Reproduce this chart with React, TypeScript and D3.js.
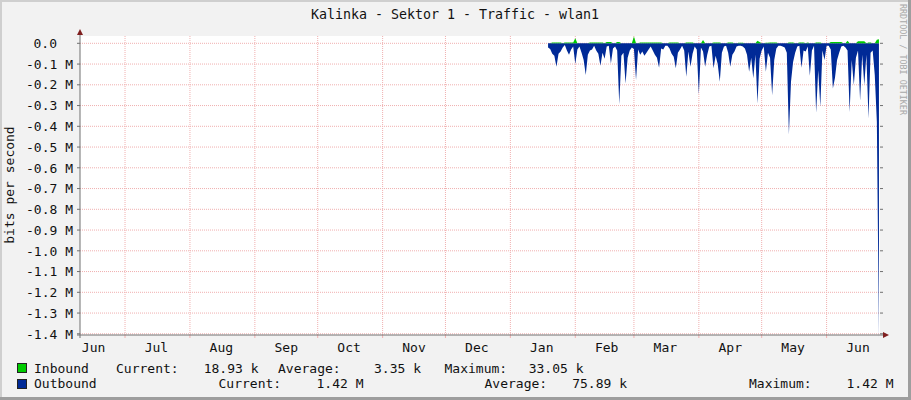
import React from 'react'
import * as d3 from 'd3'

// daily samples from 2015-01-19 onwards, kbit/s
const firstDay = Date.UTC(2015, 0, 19)

const inbound = [
	0, 0, 4, 4, 4, 4, 4, 0, 4, 4,
	4, 4, 4, 24, 0, 0, 0, 0, 0, 0,
	4, 4, 4, 4, 4, 4, 4, 0, 6, 6,
	6, 0, 0, 6, 6, 0, 0, 0, 0, 0,
	0, 33, 0, 0, 4, 4, 4, 4, 4, 4,
	4, 4, 4, 4, 4, 0, 0, 0, 4, 4,
	4, 4, 4, 0, 0, 0, 4, 4, 4, 4,
	0, 0, 0, 0, 16, 0, 0, 0, 0, 4,
	4, 4, 4, 0, 0, 0, 4, 4, 4, 0,
	0, 3, 3, 3, 0, 0, 0, 0, 0, 0,
	12, 6, 0, 0, 3, 3, 4, 4, 4, 4,
	0, 0, 0, 0, 0, 4, 4, 4, 0, 0,
	4, 4, 4, 0, 4, 0, 0, 0, 4, 4,
	4, 0, 0, 0, 0, 6, 6, 6, 6, 6,
	6, 0, 0, 12, 0, 0, 0, 0, 10, 10,
	10, 10, 0, 4, 4, 0, 0, 17, 19
]

const outbound = [
	20, 28, 50, 60, 113, 50, 40, 20, 8, 35,
	55, 30, 16, 100, 30, 16, 45, 80, 153, 55,
	35, 30, 12, 35, 50, 108, 45, 75, 16, 12,
	97, 25, 16, 35, 294, 60, 45, 194, 70, 35,
	20, 28, 177, 30, 55, 40, 60, 45, 30, 16,
	35, 55, 70, 118, 25, 30, 12, 12, 25, 50,
	65, 120, 45, 30, 12, 35, 161, 40, 113, 50,
	16, 30, 247, 20, 40, 113, 55, 16, 12, 120,
	60, 100, 185, 45, 16, 12, 45, 113, 55, 40,
	16, 12, 12, 16, 25, 55, 137, 70, 169, 55,
	290, 75, 35, 16, 137, 45, 70, 250, 80, 25,
	12, 12, 16, 20, 45, 440, 185, 90, 45, 16,
	12, 118, 35, 40, 16, 156, 35, 12, 335, 130,
	306, 35, 80, 12, 12, 30, 218, 166, 80, 45,
	16, 12, 20, 35, 331, 80, 201, 70, 35, 277,
	55, 201, 55, 363, 45, 35, 153, 379, 1420
]

const yTicks = [0, -0.1, -0.2, -0.3, -0.4, -0.5, -0.6, -0.7, -0.8, -0.9, -1.0, -1.1, -1.2, -1.3, -1.4]
const monthLabels = ['Jun', 'Jul', 'Aug', 'Sep', 'Oct', 'Nov', 'Dec', 'Jan', 'Feb', 'Mar', 'Apr', 'May', 'Jun']

const inboundStats = ['18.93 k', '3.35 k', '33.05 k']
const outboundStats = ['1.42 M', '75.89 k', '1.42 M']

const W = 911
const H = 400
const plot = { left: 80, right: 880, top: 36, bottom: 335 }
const font = '"DejaVu Sans Mono", monospace'
const gridColor = '#f0b0b0'
const axisColor = '#707070'
const arrowColor = '#7f1f1f'
const inColor = '#00cc00'
const outColor = '#002a97'

const App = () => {
	const x = d3
		.scaleUtc()
		.domain([Date.UTC(2014, 5, 9, 12), Date.UTC(2015, 5, 26, 12)])
		.range([plot.left, plot.right])
	const y = d3
		.scaleLinear()
		.domain([-1.40578e6, 0.03518e6])
		.range([plot.bottom, plot.top])

	const day = (i: number) => new Date(firstDay + i * 864e5)

	const outArea = d3
		.area<number>()
		.x((_, i) => x(day(i)))
		.y0(y(0))
		.y1((d) => y(-d * 1000))
	const inArea = d3
		.area<number>()
		.x((_, i) => x(day(i)))
		.y0(y(0))
		.y1((d) => y(d * 1000))

	const monthStarts = d3.utcMonth.range(x.domain()[0], x.domain()[1])
	const labelDates = monthLabels.map((_, i) => d3.utcDay.offset(d3.utcMonth.offset(new Date(Date.UTC(2014, 5, 1)), i), 15))

	const txt = { fontFamily: font, fontSize: 13, fill: '#111' }

	return (
		<svg width={W} height={H} style={{ position: 'absolute', left: 0, top: 0, display: 'block' }}>
			{/* canvas + frame */}
			<rect width={W} height={H} fill="#f2f2f2" />
			<rect x={0} y={0} width={W} height={2} fill="#cfcfcf" />
			<rect x={0} y={0} width={2} height={H} fill="#cfcfcf" />
			<rect x={0} y={H - 3} width={W} height={3} fill="#9e9e9e" />
			<rect x={W - 3} y={0} width={3} height={H} fill="#9e9e9e" />

			<text x={455} y={19} textAnchor="middle" {...txt} fontSize={13.3}>
				Kalinka - Sektor 1 - Traffic - wlan1
			</text>
			<text
				transform="translate(900,4) rotate(90)"
				fontFamily={font}
				fontSize={8.4}
				fill="#a8a8a8"
			>
				RRDTOOL / TOBI OETIKER
			</text>

			{/* plot area */}
			<rect x={plot.left} y={plot.top} width={plot.right - plot.left} height={plot.bottom - plot.top} fill="#fff" />

			{/* grid */}
			{yTicks.map((t) => (
				<line key={t} x1={plot.left} x2={plot.right} y1={y(t * 1e6)} y2={y(t * 1e6)} stroke={gridColor} strokeDasharray="1,1" />
			))}
			{monthStarts.map((d) => (
				<line key={+d} x1={x(d)} x2={x(d)} y1={plot.top} y2={plot.bottom} stroke={gridColor} strokeDasharray="1,1" />
			))}

			{/* data */}
			<path d={outArea(outbound) || ''} fill={outColor} />
			<path d={inArea(inbound) || ''} fill={inColor} />

			{/* axes */}
			{yTicks.map((t) => (
				<g key={'yt' + t}>
					<line x1={plot.left - 3} x2={plot.left} y1={y(t * 1e6)} y2={y(t * 1e6)} stroke={axisColor} />
					<line x1={plot.right} x2={plot.right + 3} y1={y(t * 1e6)} y2={y(t * 1e6)} stroke={axisColor} />
					<text
						x={t === 0 ? 57 : 73}
						y={y(t * 1e6) + 4.7}
						textAnchor="end"
						{...txt}
					>
						{t === 0 ? '0.0' : `${t.toFixed(1)} M`}
					</text>
				</g>
			))}
			{monthStarts.map((d) => (
				<line key={'xt' + +d} x1={x(d)} x2={x(d)} y1={plot.bottom} y2={plot.bottom + 3} stroke={gridColor} />
			))}
			<line x1={plot.left} x2={plot.left} y1={plot.bottom + 3} y2={plot.top - 4} stroke={axisColor} />
			<line x1={plot.left - 3} x2={plot.right + 4} y1={plot.bottom} y2={plot.bottom} stroke={axisColor} />
			<path d={`M${plot.left - 3},${plot.top - 1}L${plot.left},${plot.top - 7}L${plot.left + 3},${plot.top - 1}Z`} fill={arrowColor} />
			<path d={`M${plot.right + 3},${plot.bottom - 3}L${plot.right + 9},${plot.bottom}L${plot.right + 3},${plot.bottom + 3}Z`} fill={arrowColor} />

			{labelDates.map((d, i) => (
				<text key={'ml' + i} x={x(d)} y={351.5} textAnchor="middle" {...txt}>
					{monthLabels[i]}
				</text>
			))}

			<text transform="translate(14,185) rotate(-90)" textAnchor="middle" {...txt}>
				bits per second
			</text>

			{/* legend */}
			<rect x={17.5} y={363.5} width={9} height={9} fill={inColor} stroke="#222" />
			<text x={34} y={373} {...txt}>Inbound</text>
			<text x={116} y={373} {...txt}>Current:</text>
			<text x={258.5} y={373} textAnchor="end" {...txt}>{inboundStats[0]}</text>
			<text x={278} y={373} {...txt}>Average:</text>
			<text x={421} y={373} textAnchor="end" {...txt}>{inboundStats[1]}</text>
			<text x={444.5} y={373} {...txt}>Maximum:</text>
			<text x={583.5} y={373} textAnchor="end" {...txt}>{inboundStats[2]}</text>

			<rect x={17.5} y={379.5} width={9} height={9} fill={outColor} stroke="#222" />
			<text x={34} y={388} {...txt}>Outbound</text>
			<text x={218.5} y={388} {...txt}>Current:</text>
			<text x={363.5} y={388} textAnchor="end" {...txt}>{outboundStats[0]}</text>
			<text x={484.5} y={388} {...txt}>Average:</text>
			<text x={627} y={388} textAnchor="end" {...txt}>{outboundStats[1]}</text>
			<text x={749} y={388} {...txt}>Maximum:</text>
			<text x={893.5} y={388} textAnchor="end" {...txt}>{outboundStats[2]}</text>
		</svg>
	)
}

export default App
